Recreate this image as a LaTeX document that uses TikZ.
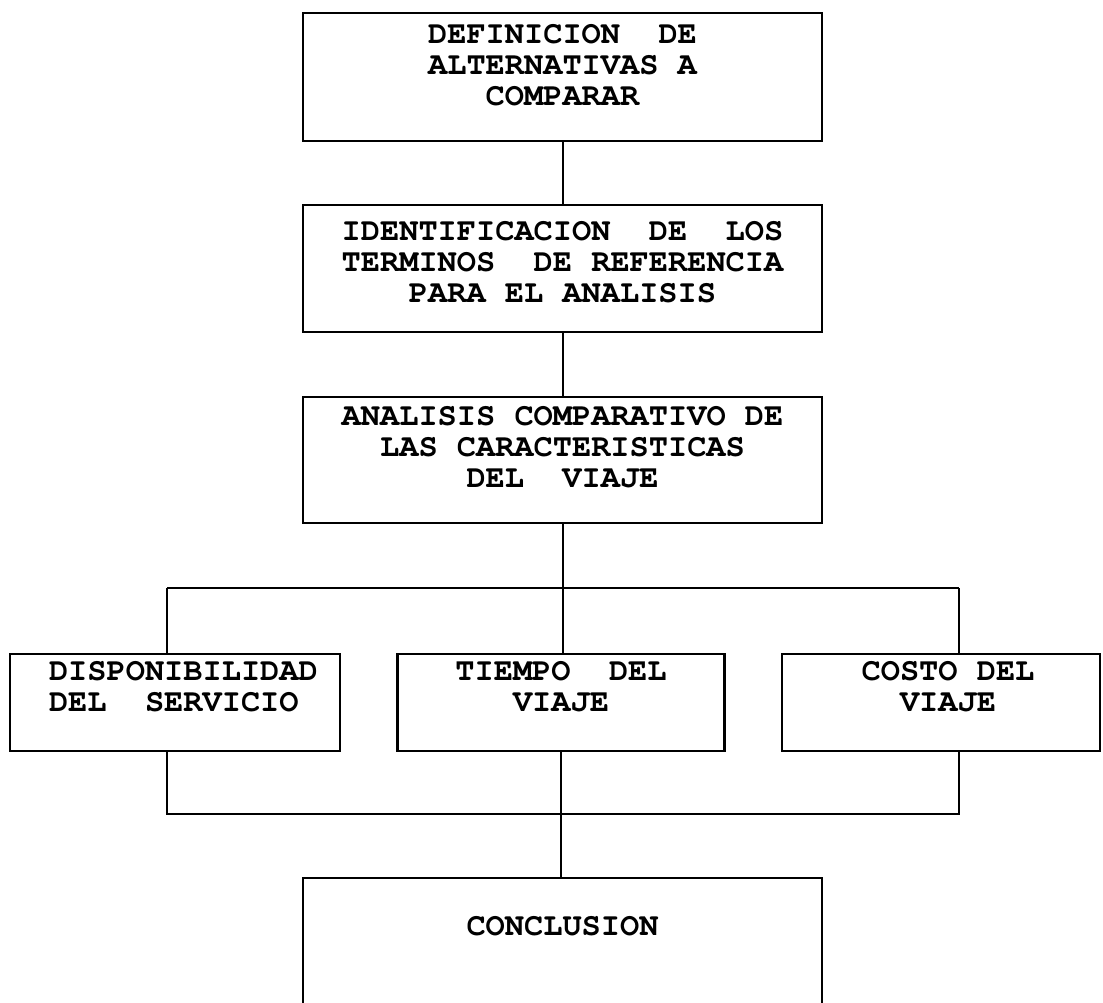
\documentclass[tikz,border=0pt]{standalone}
\usepackage{fontspec}
\setmonofont{TeX Gyre Cursor}
\usetikzlibrary{positioning}

\tikzset{
  box/.style={draw,line width=2.4pt,inner sep=0pt},
  boxtext/.style={font=\ttfamily\bfseries\fontsize{32}{31}\selectfont,align=center,inner sep=0pt,anchor=north},
  link/.style={line width=2pt}
}

\begin{document}
\begin{tikzpicture}[x=1pt,y=-1pt]
\useasboundingbox (0,0) rectangle (1103,1002);
\clip (0,0) rectangle (1103,1002);
% main column
\node[box,minimum width=519pt,minimum height=128pt] (def) at (562.5,77) {};
\node[box,minimum width=519pt,minimum height=127pt] (ter) at (562.5,268.5) {};
\node[box,minimum width=519pt,minimum height=126pt] (ana) at (562.5,460) {};
% the three characteristics
\node[box,minimum width=330pt,minimum height=97pt] (lft) at (175,702.5) {};
\node[box,minimum width=327pt,minimum height=97pt] (mid) at (561,702.5) {};
\node[box,minimum width=318pt,minimum height=97pt] (rgt) at (941,702.5) {};
\node[box,minimum width=519pt,minimum height=152pt] (conc) at (562.5,954) {};

\node[boxtext,below=12pt of def.north] (deftxt) {DEFINICION~~DE\\ALTERNATIVAS A\\COMPARAR};
\node[boxtext,below=17pt of ter.north] (tertxt) {IDENTIFICACION~~DE~~LOS\\TERMINOS~~DE REFERENCIA\\PARA EL ANALISIS};
\node[boxtext,below=10pt of ana.north] (anatxt) {ANALISIS COMPARATIVO DE\\LAS CARACTERISTICAS\\DEL~~VIAJE};
\node[boxtext,align=left,anchor=north west,below right=8pt and 40pt of lft.north west] (lfttxt) {DISPONIBILIDAD\\DEL~~SERVICIO};
\node[boxtext,below=8pt of mid.north] (midtxt) {TIEMPO~~DEL\\VIAJE};
\node[boxtext,below=8pt of rgt.north,xshift=7pt] (rgttxt) {COSTO DEL\\VIAJE};
\node[boxtext,below=39pt of conc.north] (conctxt) {CONCLUSION};

% connectors
\coordinate (jl) at (167,588);
\coordinate (jr) at (959,588);
\coordinate (kl) at (167,814);
\coordinate (kr) at (959,814);
\draw[link] (def.south) -- (ter.north);
\draw[link] (ter.south) -- (ana.north);
\draw[link] (ana.south) -- (ana.south |- mid.north);
\draw[link] (jl) -- (jr);
\draw[link] (jl) -- (jl |- lft.north);
\draw[link] (jr) -- (jr |- rgt.north);
\draw[link] (lft.south -| kl) -- (kl) -- (kr) -- (rgt.south -| kr);
\draw[link] (mid.south) -- (mid.south |- conc.north);

\end{tikzpicture}
\end{document}
